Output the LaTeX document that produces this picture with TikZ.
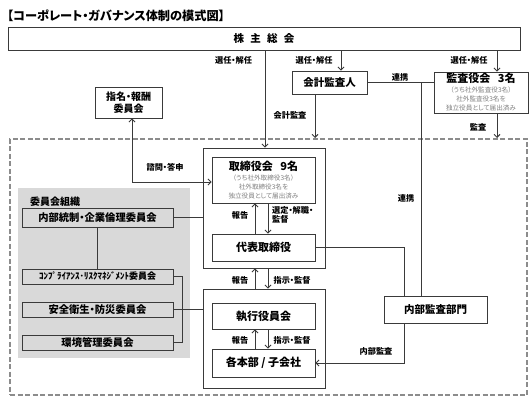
\documentclass[tikz,border=0pt]{standalone}
\usepackage{fontspec}
\setmainfont{Noto Sans CJK JP}[RawFeature=+palt]
\usetikzlibrary{arrows.meta,calc}
\definecolor{linec}{HTML}{3A3A3A}
\definecolor{smallc}{HTML}{808080}
\definecolor{panelc}{HTML}{D9D9D9}
\definecolor{dashc}{HTML}{8C8C8C}
\newcommand{\smalltxt}[1]{{\mdseries\fontsize{6.6}{8}\selectfont\color{smallc}#1}}
\begin{document}
\begin{tikzpicture}[x=1pt,y=-1pt,
  bx/.style={draw=linec, line width=0.9pt, fill=white, inner sep=0pt, align=center, font=\bfseries\fontsize{10.5}{12}\selectfont},
  gbx/.style={bx, fill=panelc, font=\bfseries\fontsize{10.3}{11}\selectfont},
  lbl/.style={font=\bfseries\fontsize{8.2}{9.5}\selectfont, text=black, inner sep=0pt},
  ln/.style={draw=linec, line width=0.9pt},
  arr/.style={ln, -{Straight Barb[length=3pt,width=6pt]}},
  darr/.style={ln, {Straight Barb[length=3pt,width=6pt]}-{Straight Barb[length=3pt,width=6pt]}}
]
\useasboundingbox (0,0) rectangle (530,398);
\fill[white] (0,0) rectangle (530,398);

% title
\node[anchor=west, inner sep=0pt, font=\bfseries\fontsize{12.2}{13}\selectfont] (title) at (7,16) {【コーポレート・ガバナンス体制の模式図】};

% frame (dashed)
\node[draw=dashc, line width=2pt, dash pattern=on 5pt off 2.5pt, minimum width=517pt, minimum height=256pt, inner sep=0pt] (frame) at (268.5,267) {};

% shareholders
\node[bx, minimum width=512pt, minimum height=23pt] (sh) at (264,38.5) {株\hspace{0.6em}主\hspace{0.6em}総\hspace{0.6em}会};

% auditor
\node[bx, minimum width=75pt, minimum height=23pt] (kaikei) at (329.5,82.5) {会計監査人};

% audit board
\node[bx, minimum width=94pt, minimum height=41pt] (kansa) at (481,92.5) {\fontsize{11}{12}\selectfont 監査役会\hspace{0.7em}3名\\[-2pt]
 \smalltxt{（うち社外監査役3名）}\\[-3pt]
 \smalltxt{社外監査役3名を}\\[-3pt]
 \smalltxt{独立役員として届出済み}};

% nomination
\node[bx, minimum width=67pt, minimum height=31pt, font=\bfseries\fontsize{10}{12}\selectfont] (shimei) at (128.5,102.5) {指名・報酬\\委員会};

% board group
\node[bx, minimum width=122pt, minimum height=120pt] (outerA) at (264,208) {};
\node[bx, minimum width=103pt, minimum height=46pt] (tori) at (263.5,180) {\fontsize{11}{12}\selectfont 取締役会\hspace{0.7em}9名\\[-2pt]
 \smalltxt{（うち社外取締役3名）}\\[-3pt]
 \smalltxt{社外取締役3名を}\\[-3pt]
 \smalltxt{独立役員として届出済み}};
\node[bx, minimum width=103pt, minimum height=27pt, font=\bfseries\fontsize{11}{12}\selectfont] (daihyo) at (263.5,247.5) {代表取締役};

% executive group
\node[bx, minimum width=122pt, minimum height=99pt] (outerB) at (264,338.5) {};
\node[bx, minimum width=103pt, minimum height=26pt, font=\bfseries\fontsize{11}{12}\selectfont] (shikko) at (263.5,316) {執行役員会};
\node[bx, minimum width=103pt, minimum height=28pt, font=\bfseries\fontsize{11}{12}\selectfont] (kakuhon) at (263.5,363) {各本部 / 子会社};

% internal audit
\node[bx, minimum width=103pt, minimum height=27pt] (naibu) at (435.5,309.5) {内部監査部門};

% committee panel
\fill[panelc] (18,188) rectangle (190,358);
\node[anchor=west, inner sep=0pt, font=\bfseries\fontsize{10}{12}\selectfont] (iinkai) at (30,202) {委員会組織};
\node[gbx, minimum width=151pt, minimum height=19pt] (c1) at (97.5,217.5) {内部統制・企業倫理委員会};
\node[gbx, minimum width=151pt, minimum height=15pt, font=\bfseries\fontsize{9}{10}\selectfont] (c2) at (97.5,276.5) {ｺﾝﾌﾟﾗｲｱﾝｽ･ﾘｽｸﾏﾈｼﾞﾒﾝﾄ委員会};
\node[gbx, minimum width=151pt, minimum height=15pt] (c3) at (97.5,309.5) {安全衛生・防災委員会};
\node[gbx, minimum width=151pt, minimum height=15pt] (c4) at (97.5,342.5) {環境管理委員会};

% connectors from shareholders
\draw[arr] ([xshift=1pt]outerA.north |- sh.south) -- ([xshift=1pt]outerA.north);
\draw[arr] ([xshift=11.5pt]kaikei.north |- sh.south) -- ([xshift=11.5pt]kaikei.north);
\draw[arr] ([xshift=16pt]kansa.north |- sh.south) -- ([xshift=16pt]kansa.north);
\draw[arr] ([xshift=-14.5pt]kaikei.south) -- ([xshift=-14.5pt]kaikei.south |- frame.north);
\draw[arr] ([xshift=16pt]kansa.south) -- ([xshift=16pt]kansa.south |- frame.north);

\node[lbl] (l1) at (233.5,60) {選任・解任};
\node[lbl] (l2) at (314,60) {選任・解任};
\node[lbl] (l3) at (469,60) {選任・解任};
\node[lbl] (l4) at (290,115) {会計監査};
\node[lbl] (l5) at (478,127) {監査};

% cooperation
\draw[ln] (kaikei.east) -- (kaikei.east -| kansa.west);
\node[lbl] (l6) at (400,77) {連携};
\draw[ln] ([xshift=-14.5pt]naibu.north |- kaikei.east) -- ([xshift=-14.5pt]naibu.north);
\node[lbl] (l7) at (406,198) {連携};
\draw[ln] (daihyo.east) -| ([xshift=-31.5pt]naibu.north);
\draw[arr] ([xshift=-31.5pt]naibu.south) |- (kakuhon.east);
\node[lbl] (l8) at (376,351) {内部監査};

% nomination link
\draw[darr] ([xshift=3.5pt]shimei.south) |- ([yshift=-2pt]tori.west);
\node[lbl] (l9) at (165,167) {諮問・答申};

% board internal
\draw[arr] ([xshift=-8.5pt]daihyo.north) -- ([xshift=-8.5pt]tori.south);
\draw[arr] ([xshift=4.5pt]tori.south) -- ([xshift=4.5pt]daihyo.north);
\node[lbl] (l10) at (240,215) {報告};
\node[lbl, anchor=north west, align=left] (l11) at (272,206) {選定・解職・\\監督};

\draw[arr] ([xshift=-9pt]outerB.north) -- ([xshift=-9pt]outerA.south);
\draw[arr] ([xshift=4pt]outerA.south) -- ([xshift=4pt]outerB.north);
\node[lbl] (l12) at (240,280) {報告};
\node[lbl] (l13) at (292,280) {指示・監督};

\draw[arr] ([xshift=-8.5pt]kakuhon.north) -- ([xshift=-8.5pt]shikko.south);
\draw[arr] ([xshift=4.5pt]shikko.south) -- ([xshift=4.5pt]kakuhon.north);
\node[lbl] (l14) at (240,340) {報告};
\node[lbl] (l15) at (292,340) {指示・監督};

% committee links
\draw[ln] (c1.east) -- (c1.east -| outerA.west);
\draw[ln] (c1.south) -- (c2.north);
\draw[ln] (c3.east) -- (c3.east -| outerB.west);
\draw[ln] (c2.east) -- ++(8.5pt,0) |- (c4.east);
\end{tikzpicture}
\end{document}
